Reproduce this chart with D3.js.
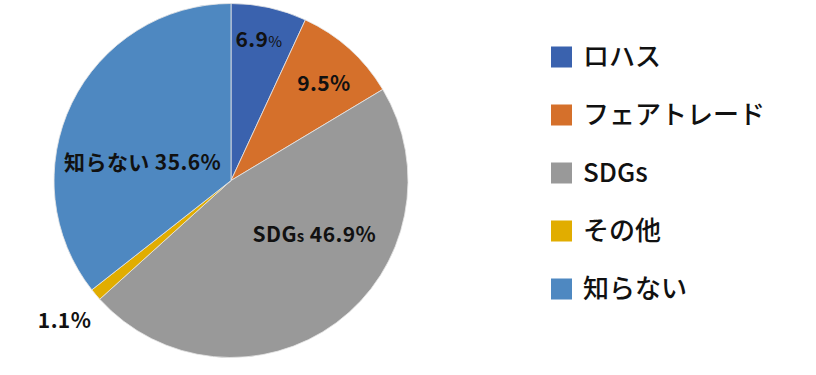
<!DOCTYPE html>
<html>
<head>
<meta charset="utf-8">
<script src="https://cdn.jsdelivr.net/npm/d3@7"></script>
<style>
  body { margin: 0; background: #fff; }
  svg { display: block; font-family: "Noto Sans CJK JP", "Noto Sans", sans-serif; }
</style>
</head>
<body>
<svg id="chart" width="816" height="375"></svg>
<script>
// data
const categories = ["ロハス", "フェアトレード", "SDGs", "その他", "知らない"];
const values = [6.9, 9.5, 46.9, 1.1, 35.6];
const colors = ["#3A62AE", "#D5702B", "#999999", "#E1AD00", "#4E88C1"];

// label layout: [radius fraction, angle nudge from mid angle]
const labelLayout = [[0.81, -0.02], [0.76, 0.03], [0.56, -0.36], [1.23, 0], [0.51, -0.25]];

const width = 816, height = 375;
const cx = 231, cy = 180.5, radius = 177;

const svg = d3.select("#chart");
const pieGroup = svg.append("g").attr("transform", `translate(${cx},${cy})`);

const pie = d3.pie().sort(null).value(d => d.value);
const arcs = pie(categories.map((c, i) => ({name: c, value: values[i], color: colors[i]})));

const arc = d3.arc().innerRadius(0).outerRadius(radius);

pieGroup.selectAll("path")
    .data(arcs)
    .enter()
    .append("path")
    .attr("d", arc)
    .attr("fill", d => d.data.color)
    .attr("stroke", "#e6e6e6")
    .attr("stroke-width", 0.8);

// value labels
const labels = pieGroup.selectAll("text.val")
    .data(arcs)
    .enter()
    .append("text")
    .attr("class", "val")
    .attr("text-anchor", "middle")
    .attr("dy", "0.35em")
    .attr("font-size", 21)
    .attr("font-weight", "bold")
    .attr("letter-spacing", 0.4)
    .attr("fill", "#111")
    .attr("transform", (d, i) => {
        const a = (d.startAngle + d.endAngle) / 2 + labelLayout[i][1];
        const r = labelLayout[i][0] * radius;
        return `translate(${Math.sin(a) * r},${-Math.cos(a) * r})`;
    });

labels.each(function (d, i) {
    const t = d3.select(this);
    const num = d.data.value.toFixed(1);
    if (i === 0) {
        t.append("tspan").text(num);
        t.append("tspan").attr("font-size", 15).attr("font-weight", "normal").text("%");
    } else if (d.data.name === "SDGs") {
        t.append("tspan").text("SDG");
        t.append("tspan").attr("font-size", 15).text("s");
        t.append("tspan").text(" " + num + "%");
    } else if (d.data.name === "知らない") {
        t.append("tspan").text(d.data.name + " " + num + "%");
    } else {
        t.append("tspan").text(num + "%");
    }
});

// legend
const legendY = d3.scalePoint().domain(categories).range([57, 289]);
const legend = svg.append("g").selectAll("g")
    .data(categories)
    .enter()
    .append("g")
    .attr("transform", d => `translate(551,${legendY(d)})`);

legend.append("rect")
    .attr("x", 0)
    .attr("y", -10.5)
    .attr("width", 21)
    .attr("height", 21)
    .attr("fill", (d, i) => colors[i]);

legend.append("text")
    .attr("x", 32)
    .attr("dy", "0.35em")
    .attr("font-size", 26)
    .attr("font-weight", 500)
    .attr("fill", "#111")
    .text(d => d);
</script>
</body>
</html>
